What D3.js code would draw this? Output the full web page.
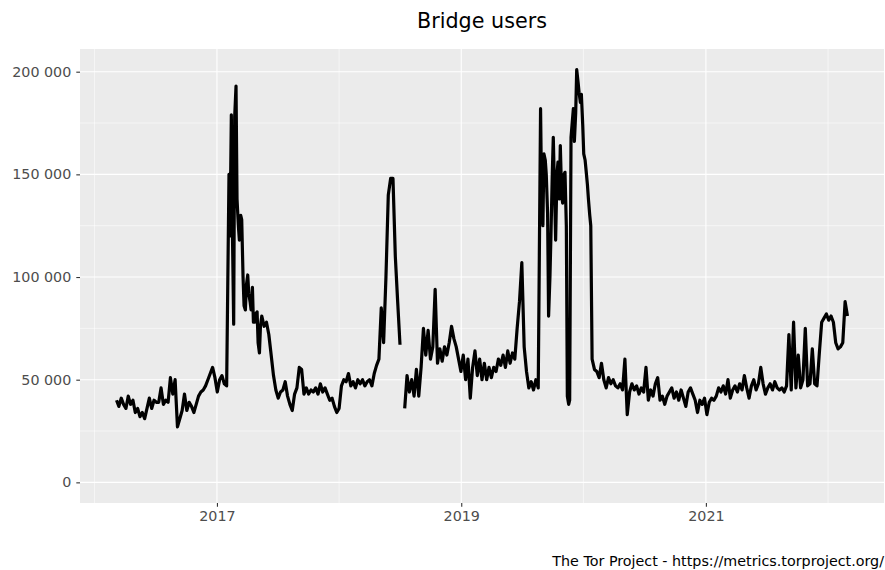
<!DOCTYPE html>
<html><head><meta charset="utf-8">
<script src="https://cdn.jsdelivr.net/npm/d3@7/dist/d3.min.js"></script>
<style>body{margin:0;background:#fff}</style>
</head><body><svg id="c" width="885" height="570"></svg>
<script>
const title = "Bridge users";
const caption = "The Tor Project - https://metrics.torproject.org/";
const startDate = "2016-03-07";
const stepDays = 7;
// weekly bridge users, thousands (null = missing data)
const users2016 = [40,37,41,38,36,42,38,40,34,36, 32,34,31,36,41,36,40,39,39,46, 38,40,39,51,43,50,27,31,35,43, 35,39,37,34,38,42,44,45,47,50, 53,56,51,44,50,52,48,47];
const users2017 = [150,179,77,193,125,130,100,84,101,88, 95,78,83,63,81,76,78,72,62,52, 45,41,44,45,49,42,38,35,43,46, 56,55,43,46,43,45,44,46,43,48, 44,46,43,40,41,37,34,36,47,50];
const users2018 = [49,53,47,49,46,50,48,50,47,49, 50,47,53,57,60,85,68,100,140,148, 148,110,88,67,null,36,52,44,50,42, 55,42,56,75,62,74,60,66,94,58, 65,59,66,62,68,76,70,66,60,54, 62,50];
const users2019 = [60,41,56,64,52,60,50,58,50,56, 51,56,54,60,57,62,56,64,58,63, 60,75,88,107,66,54,46,49,45,50, 46,182,125,157,131,100,150,140,150,138, 140,150,125,38,168,182,180,195,185,174, 157,145];
const users2020 = [130,60,55,54,51,58,50,46,51,48, 50,47,46,48,45,60,33,44,48,45, 47,43,46,44,56,40,45,42,48,51, 40,42,38,42,44,46,41,44,40,45, 41,37,44,46,43,40,34,40,38,41, 33,39];
const users2021 = [41,40,42,46,44,47,43,50,41,45, 47,44,48,45,52,46,41,47,50,45, 48,56,48,43,46,48,45,49,46,45, 46,44,47,72,45,78,46,62,46,50, 75,47,48,65,48,47,63,78,80,82, 79,81,78,68,65,66,68,88,81];
const users = [].concat(users2016, users2017, users2018, users2019, users2020, users2021);

// extra mid-week readings inside the two surges (thousands)
const surge2017Dates = ["2017-02-09","2017-02-16","2017-02-23","2017-03-02","2017-03-09","2017-03-16","2017-03-23","2017-03-30","2017-04-06","2017-04-13","2017-04-20","2017-04-27","2017-05-04","2017-05-11"];
const surge2017Users = [120,125,178,138,118,128,86,96,92,84,78,82,68,76];
const surge2019Dates = ["2019-08-29","2019-09-05","2019-09-12","2019-09-19","2019-09-26","2019-10-03","2019-10-10","2019-10-17","2019-10-24","2019-10-31","2019-11-07","2019-11-14","2019-11-21","2019-11-28","2019-12-05","2019-12-12","2019-12-19","2019-12-26","2020-01-02","2020-01-09","2020-01-16","2020-01-23"];
const surge2019Users = [140,160,150,81,120,168,118,156,164,136,151,42,40,174,166,201,190,189,160,152,138,125];

const yTicks = [0, 50000, 100000, 150000, 200000];
const yLabels = ["0", "50 000", "100 000", "150 000", "200 000"];
const yMinor = [25000, 75000, 125000, 175000];
const xTicks = ["2017-01-01", "2019-01-01", "2021-01-01"];
const xLabels = ["2017", "2019", "2021"];
const xMinor = ["2016-01-01", "2018-01-01", "2020-01-01", "2022-01-01"];

const parse = d3.utcParse("%Y-%m-%d");
const start = parse(startDate);
const toPt = (date, v) => ({date, value: v == null ? null : v * 1000});
const data = users.map((v, i) => toPt(d3.utcDay.offset(start, i * stepDays), v))
  .concat(surge2017Dates.map((d, i) => toPt(parse(d), surge2017Users[i])))
  .concat(surge2019Dates.map((d, i) => toPt(parse(d), surge2019Users[i])))
  .sort((a, b) => a.date - b.date);

const W = 885, H = 570;
const P = {l: 80, r: 884, t: 49, b: 503};
const svg = d3.select("#c");
const font = "'DejaVu Sans', sans-serif";

const xExt = d3.extent(data, d => d.date);
const xPad = (xExt[1] - xExt[0]) * 0.05;
const x = d3.scaleUtc().domain([new Date(+xExt[0] - xPad), new Date(+xExt[1] + xPad)]).range([P.l, P.r]);
const yMax = d3.max(data, d => d.value), yMin = 0;
const yPad = (yMax - yMin) * 0.05;
const y = d3.scaleLinear().domain([yMin - yPad, yMax + yPad]).range([P.b, P.t]);

svg.append("rect").attr("width", W).attr("height", H).attr("fill", "#fff");
svg.append("rect").attr("x", P.l).attr("y", P.t).attr("width", P.r - P.l).attr("height", P.b - P.t).attr("fill", "#EBEBEB");

const g = svg.append("g");
g.selectAll(".ymin").data(yMinor).enter().append("line")
  .attr("x1", P.l).attr("x2", P.r).attr("y1", d => y(d)).attr("y2", d => y(d))
  .attr("stroke", "#fff").attr("stroke-width", 0.55);
g.selectAll(".xmin").data(xMinor.map(parse).filter(d => x(d) > P.l && x(d) < P.r)).enter().append("line")
  .attr("y1", P.t).attr("y2", P.b).attr("x1", d => x(d)).attr("x2", d => x(d))
  .attr("stroke", "#fff").attr("stroke-width", 0.55);
g.selectAll(".ymaj").data(yTicks).enter().append("line")
  .attr("x1", P.l).attr("x2", P.r).attr("y1", d => y(d)).attr("y2", d => y(d))
  .attr("stroke", "#fff").attr("stroke-width", 1.1);
g.selectAll(".xmaj").data(xTicks.map(parse)).enter().append("line")
  .attr("y1", P.t).attr("y2", P.b).attr("x1", d => x(d)).attr("x2", d => x(d))
  .attr("stroke", "#fff").attr("stroke-width", 1.1);

const line = d3.line().defined(d => d.value != null).x(d => x(d.date)).y(d => y(d.value));
svg.append("path").datum(data).attr("d", line).attr("fill", "none")
  .attr("stroke", "#000").attr("stroke-width", 3.2).attr("stroke-linejoin", "round");

// axes
const yAxis = d3.axisLeft(y).tickValues(yTicks).tickFormat((d, i) => yLabels[i]).tickSize(3.7).tickPadding(5);
const ya = svg.append("g").attr("transform", `translate(${P.l},0)`).call(yAxis);
ya.select(".domain").remove();
ya.selectAll("line").attr("stroke", "#333").attr("stroke-width", 1.1);
ya.selectAll("text").attr("fill", "#4D4D4D").style("font-family", font).style("font-size", "14.3px");

const xAxis = d3.axisBottom(x).tickValues(xTicks.map(parse)).tickFormat((d, i) => xLabels[i]).tickSize(3.7).tickPadding(4.5);
const xa = svg.append("g").attr("transform", `translate(0,${P.b})`).call(xAxis);
xa.select(".domain").remove();
xa.selectAll("line").attr("stroke", "#333").attr("stroke-width", 1.1);
xa.selectAll("text").attr("fill", "#4D4D4D").style("font-family", font).style("font-size", "14.3px");

svg.append("text").attr("x", (P.l + P.r) / 2).attr("y", 27.5).attr("text-anchor", "middle")
  .style("font-family", font).style("font-size", "20.7px").attr("fill", "#000").text(title);
svg.append("text").attr("x", P.r).attr("y", 566).attr("text-anchor", "end")
  .style("font-family", font).style("font-size", "14.3px").attr("fill", "#000").text(caption);
</script></body></html>
